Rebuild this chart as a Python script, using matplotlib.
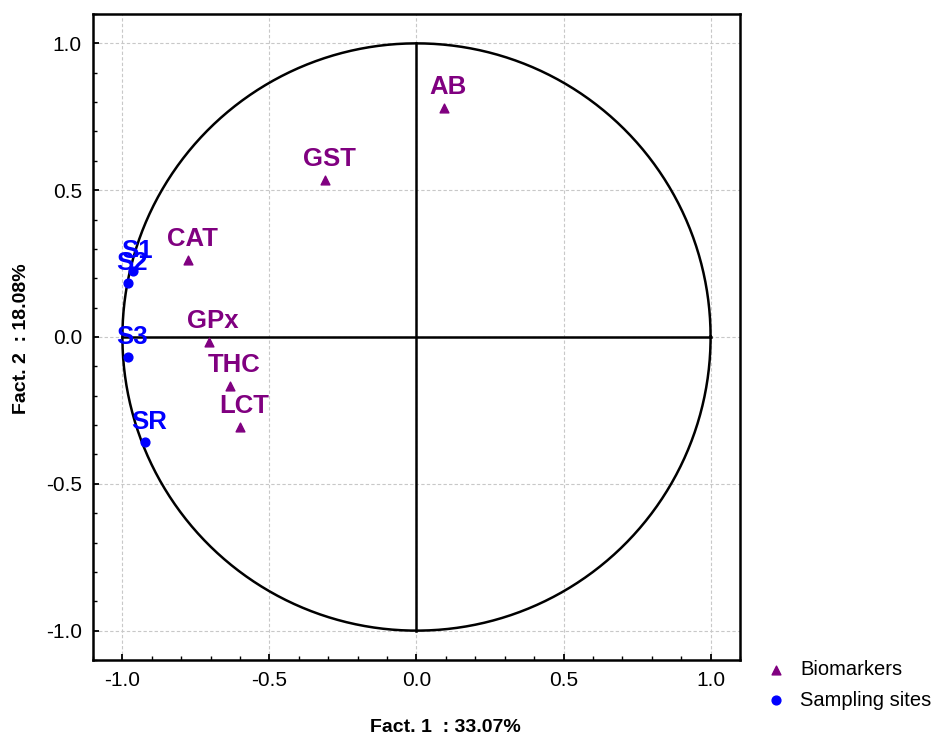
import numpy as np
import matplotlib
matplotlib.use("Agg")
import matplotlib.pyplot as plt
from matplotlib.ticker import MultipleLocator, FormatStrFormatter

plt.rcParams['font.family'] = ['Liberation Sans', 'DejaVu Sans']

# Data
bio_names = ["AB", "GST", "CAT", "GPx", "THC", "LCT"]
bio_x = [0.095, -0.31, -0.776, -0.707, -0.633, -0.599]
bio_y = [0.779, 0.534, 0.262, -0.017, -0.167, -0.306]

site_names = ["S1", "S2", "S3", "SR"]
site_x = [-0.965, -0.980, -0.980, -0.922]
site_y = [0.226, 0.184, -0.068, -0.357]

x_label = "Fact. 1  : 33.07%"
y_label = "Fact. 2  : 18.08%"
legend_labels = ["Biomarkers", "Sampling sites"]

purple = "#800080"
blue = "#0000FF"

fig = plt.figure(figsize=(9.4, 7.37), dpi=100)
ax = fig.add_axes([93/940, 1-660/737, (740-93)/940, (660-14)/737])
ax.set_xlim(-1.1, 1.1)
ax.set_ylim(-1.1, 1.1)

ax.xaxis.set_major_locator(MultipleLocator(0.5))
ax.yaxis.set_major_locator(MultipleLocator(0.5))
ax.xaxis.set_minor_locator(MultipleLocator(0.1))
ax.yaxis.set_minor_locator(MultipleLocator(0.1))
ax.grid(True, which='major', color='#c8c8c8', linestyle=(0, (3, 2)), linewidth=0.8, zorder=0)
ax.tick_params(which='major', direction='in', length=4, width=1.3, labelsize=15, pad=8)
ax.tick_params(which='minor', direction='in', length=3, width=1.0)
ax.xaxis.set_major_formatter(FormatStrFormatter('%.1f'))
ax.yaxis.set_major_formatter(FormatStrFormatter('%.1f'))
for s in ax.spines.values():
    s.set_linewidth(1.8)

# unit circle and axes lines
t = np.linspace(0, 2*np.pi, 400)
ax.plot(np.cos(t), np.sin(t), color='black', lw=1.8, zorder=2)
ax.plot([-1, 1], [0, 0], color='black', lw=1.8, zorder=2)
ax.plot([0, 0], [-1, 1], color='black', lw=1.8, zorder=2)

ax.scatter(bio_x, bio_y, marker='^', s=40, color=purple, zorder=3, label=legend_labels[0])
ax.scatter(site_x, site_y, marker='o', s=40, color=blue, zorder=3, label=legend_labels[1])

for n, x, y in zip(bio_names, bio_x, bio_y):
    ax.annotate(n, (x, y), xytext=(4, 21), textcoords='offset pixels', ha='center', va='center',
                fontsize=18.5, fontweight='bold', color=purple, zorder=4)
for n, x, y in zip(site_names, site_x, site_y):
    ax.annotate(n, (x, y), xytext=(4, 20), textcoords='offset pixels', ha='center', va='center',
                fontsize=18.5, fontweight='bold', color=blue, zorder=4)

fig.text(445/940, 1-727/737, x_label, ha='center', va='center', fontsize=14, fontweight='bold')
fig.text(22/940, 1-339/737, y_label, ha='center', va='center', rotation=90, fontsize=14, fontweight='bold')

fig.legend(loc='center left', bbox_to_anchor=(754/940, 1-685/737), frameon=False, fontsize=14.5,
           handletextpad=0.6, labelspacing=0.55, handlelength=1.2, borderpad=0)

fig.savefig("out.png", dpi=100)
